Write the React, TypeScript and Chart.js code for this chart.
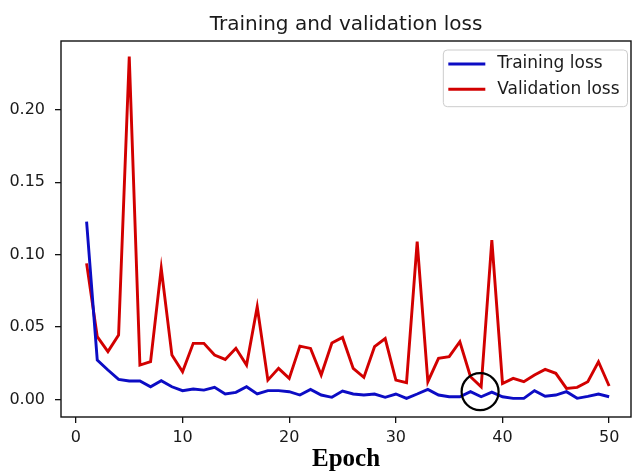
import React, { useEffect, useRef } from "react";
import { Chart, registerables } from "chart.js";

Chart.register(...registerables);

const epochs = [
  1, 2, 3, 4, 5, 6, 7, 8, 9, 10,
  11, 12, 13, 14, 15, 16, 17, 18, 19, 20,
  21, 22, 23, 24, 25, 26, 27, 28, 29, 30,
  31, 32, 33, 34, 35, 36, 37, 38, 39, 40,
  41, 42, 43, 44, 45, 46, 47, 48, 49, 50,
];

const trainingLoss = [
  0.1228, 0.0272, 0.0203, 0.0138, 0.0127, 0.0127, 0.0087, 0.0129, 0.0087, 0.006,
  0.0071, 0.0064, 0.0083, 0.0037, 0.0048, 0.0087, 0.0037, 0.006, 0.006, 0.0053,
  0.003, 0.0069, 0.003, 0.0014, 0.0057, 0.0037, 0.003, 0.0037, 0.0014, 0.0037,
  0.0007, 0.0037, 0.0069, 0.003, 0.0018, 0.0018, 0.0053, 0.0018, 0.005, 0.0018,
  0.0007, 0.0007, 0.006, 0.0021, 0.003, 0.0053, 0.0007, 0.0021, 0.0037, 0.0018,
];

const validationLoss = [
  0.094, 0.0433, 0.033, 0.0445, 0.2369, 0.0237, 0.026, 0.0906, 0.0306, 0.0191,
  0.0387, 0.0387, 0.0306, 0.0276, 0.0353, 0.0237, 0.064, 0.0133, 0.0214, 0.0145,
  0.0368, 0.0352, 0.0168, 0.039, 0.0428, 0.0214, 0.0152, 0.0364, 0.042, 0.0133,
  0.0115, 0.109, 0.0122, 0.0283, 0.0295, 0.0398, 0.0156, 0.0087, 0.11, 0.011,
  0.0145, 0.0122, 0.0168, 0.0207, 0.018, 0.0076, 0.0083, 0.0122, 0.026, 0.0092,
];

const seriesLabels = ["Training loss", "Validation loss"];
const xTicks = [0, 10, 20, 30, 40, 50];
const yTicks = [0, 0.05, 0.1, 0.15, 0.2];
const highlight = { epoch: 37.9, loss: 0.0053 };

const BLUE = "#0c0cc4";
const RED = "#d20000";
const TEXT = "#1a1a1a";
const SANS = "'DejaVu Sans', sans-serif";

export default function App() {
  const ref = useRef<HTMLCanvasElement>(null);

  useEffect(() => {
    if (!ref.current) return;

    const decorPlugin = {
      id: "decor",
      afterDraw(chart: any) {
        const { ctx, chartArea: a, scales } = chart;
        ctx.save();
        // highlight circle
        const cx = scales.x.getPixelForValue(highlight.epoch);
        const cy = scales.y.getPixelForValue(highlight.loss);
        ctx.beginPath();
        ctx.arc(cx, cy, 18.5, 0, Math.PI * 2);
        ctx.strokeStyle = "#000";
        ctx.lineWidth = 2.2;
        ctx.stroke();

        // frame
        ctx.lineWidth = 1.4;
        ctx.strokeStyle = "#111";
        ctx.strokeRect(a.left, a.top, a.right - a.left, a.bottom - a.top);

        // legend
        ctx.font = "17px " + SANS;
        const items = chart.data.datasets.map((d: any) => ({
          label: d.label as string,
          color: d.borderColor as string,
        }));
        const tw = Math.max(...items.map((i: any) => ctx.measureText(i.label).width));
        const w = 5 + 37 + 12 + tw + 8;
        const h = 56.7;
        const x0 = a.right - 3.5 - w;
        const y0 = a.top + 9;
        const r = 4;
        ctx.beginPath();
        ctx.moveTo(x0 + r, y0);
        ctx.lineTo(x0 + w - r, y0);
        ctx.arcTo(x0 + w, y0, x0 + w, y0 + r, r);
        ctx.lineTo(x0 + w, y0 + h - r);
        ctx.arcTo(x0 + w, y0 + h, x0 + w - r, y0 + h, r);
        ctx.lineTo(x0 + r, y0 + h);
        ctx.arcTo(x0, y0 + h, x0, y0 + h - r, r);
        ctx.lineTo(x0, y0 + r);
        ctx.arcTo(x0, y0, x0 + r, y0, r);
        ctx.closePath();
        ctx.fillStyle = "rgba(255,255,255,0.85)";
        ctx.fill();
        ctx.strokeStyle = "#cccccc";
        ctx.lineWidth = 1;
        ctx.stroke();

        items.forEach((it: any, i: number) => {
          const yy = y0 + 14 + i * 25.3;
          ctx.beginPath();
          ctx.moveTo(x0 + 5, yy);
          ctx.lineTo(x0 + 42, yy);
          ctx.strokeStyle = it.color;
          ctx.lineWidth = 3;
          ctx.stroke();
          ctx.fillStyle = TEXT;
          ctx.textAlign = "left";
          ctx.textBaseline = "middle";
          ctx.fillText(it.label, x0 + 54, yy);
        });
        ctx.restore();
      },
    };

    const gridOpts = {
      drawOnChartArea: false,
      drawTicks: true,
      tickLength: 6,
      color: "#111",
      lineWidth: 1.3,
    };

    const chart = new Chart(ref.current, {
      type: "line",
      data: {
        datasets: [
          {
            label: seriesLabels[0],
            data: epochs.map((e, i) => ({ x: e, y: trainingLoss[i] })),
            borderColor: BLUE,
            backgroundColor: BLUE,
            borderWidth: 2.9,
            pointRadius: 0,
            tension: 0,
          },
          {
            label: seriesLabels[1],
            data: epochs.map((e, i) => ({ x: e, y: validationLoss[i] })),
            borderColor: RED,
            backgroundColor: RED,
            borderWidth: 2.9,
            pointRadius: 0,
            tension: 0,
          },
        ],
      },
      options: {
        responsive: false,
        animation: false,
        layout: { padding: { left: 0, right: 5, top: 0, bottom: 0 } },
        plugins: {
          legend: { display: false },
          tooltip: { enabled: false },
          title: {
            display: true,
            text: "Training and validation loss",
            fullSize: false,
            font: { family: SANS, size: 20, weight: "normal", lineHeight: 1.2 },
            color: TEXT,
            padding: { top: 12.5, bottom: 4.5 },
          },
        },
        scales: {
          x: {
            type: "linear",
            min: -1.4,
            max: 52.05,
            afterFit: (s: any) => {
              s.height = 56;
            },
            afterBuildTicks: (s: any) => {
              s.ticks = xTicks.map((v) => ({ value: v }));
            },
            grid: gridOpts,
            border: { display: false },
            ticks: {
              font: { family: SANS, size: 16 },
              color: TEXT,
              padding: 5,
              maxRotation: 0,
              autoSkip: false,
              callback: (v: any) => String(v),
            },
            title: {
              display: true,
              text: "Epoch",
              font: { family: "'Liberation Serif', serif", size: 25, weight: "bold", lineHeight: 1 },
              color: "#000",
              padding: { top: 0, bottom: 1 },
            },
          },
          y: {
            type: "linear",
            min: -0.0122,
            max: 0.2477,
            afterFit: (s: any) => {
              s.width = 61;
            },
            afterBuildTicks: (s: any) => {
              s.ticks = yTicks.map((v) => ({ value: v }));
            },
            grid: gridOpts,
            border: { display: false },
            ticks: {
              font: { family: SANS, size: 16 },
              color: TEXT,
              padding: 10,
              autoSkip: false,
              callback: (v: any) => Number(v).toFixed(2),
            },
          },
        },
      },
      plugins: [decorPlugin],
    } as any);

    return () => chart.destroy();
  }, []);

  return (
    <div style={{ position: "absolute", left: 0, top: 0, width: 636, height: 473, background: "#fff" }}>
      <canvas ref={ref} width={636} height={473} style={{ display: "block" }} />
    </div>
  );
}
